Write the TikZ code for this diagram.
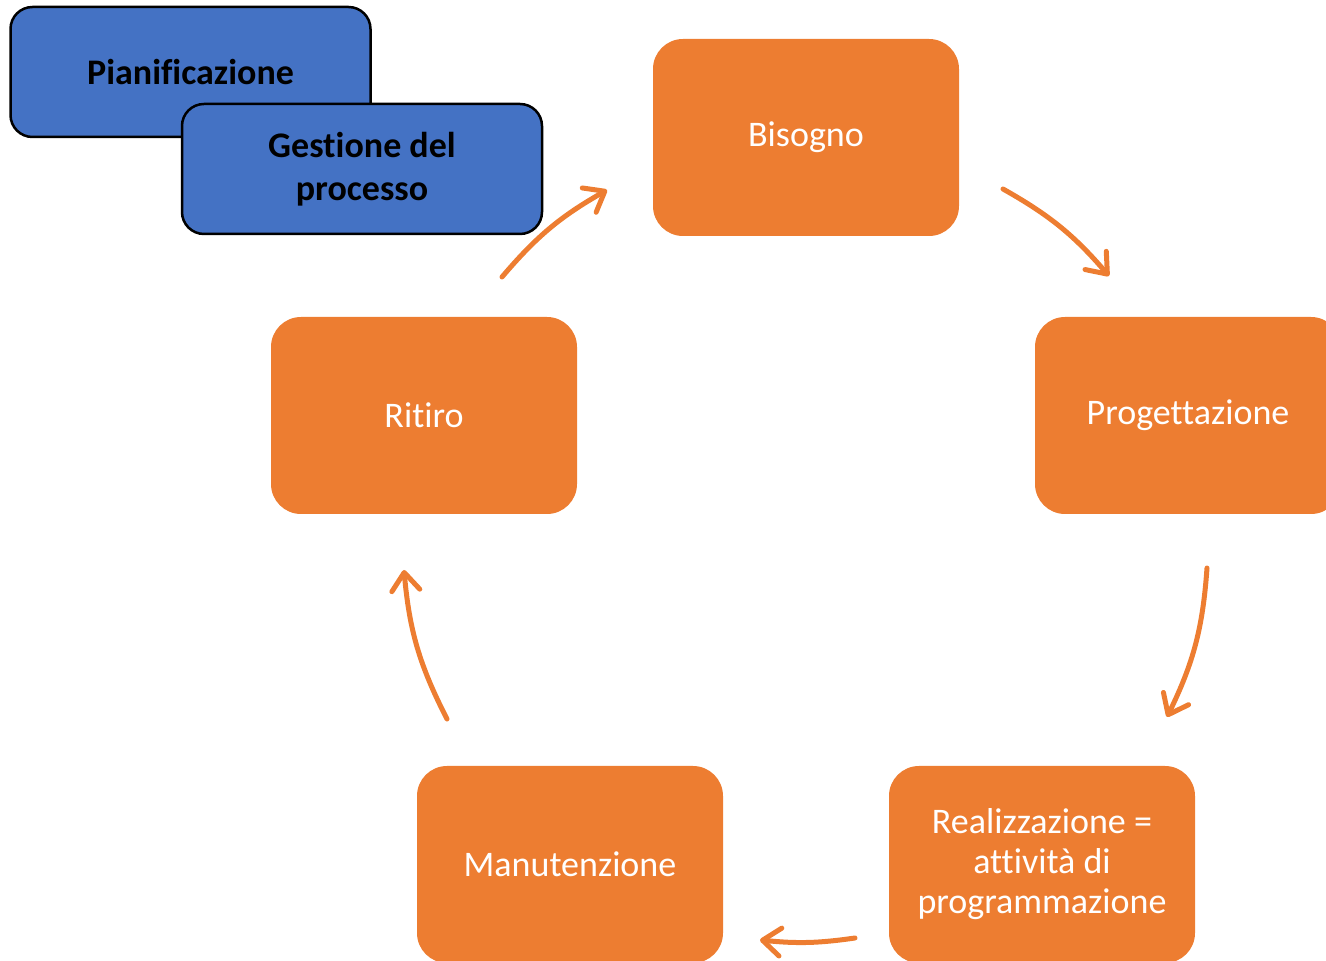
\documentclass[tikz,border=0pt]{standalone}
\usepackage{fontspec}
\setmainfont[Ligatures={NoCommon,NoContextual,NoRare}]{Carlito}
\usetikzlibrary{arrows.meta}
\definecolor{boxorange}{HTML}{ED7D31}
\definecolor{boxblue}{HTML}{4472C4}
\tikzset{
  phase/.style={fill=boxorange, draw=none, rounded corners=30pt, minimum width=306pt, minimum height=197pt,
    text=white, align=center, font=\fontsize{36}{40}\selectfont, inner sep=0pt},
  bluebox/.style={fill=boxblue, draw=black, line width=2.5pt, rounded corners=22pt, minimum width=360pt, minimum height=130pt,
    text=black, align=center, font=\fontsize{36}{43}\selectfont\bfseries, inner sep=0pt},
  flow/.style={draw=boxorange, line width=5pt, line cap=round,
    -{Straight Barb[length=18pt,width=28pt,round]}}
}
\begin{document}
\begin{tikzpicture}[x=1pt,y=1pt]
\useasboundingbox (0,0) rectangle (1326,961);
\clip (0,0) rectangle (1326,961);
% blue boxes
\node[bluebox] (pian) at (190.5,889) {Pianificazione};
\node[bluebox] (gest) at (362,792) {Gestione del\\processo};
% phases
\node[phase] (bis) at (806,823.5) {Bisogno};
\node[phase] (prog) at (1188,545.5) {Progettazione};
\node[phase] (real) at (1042,96.5) {Realizzazione =\\attività di\\programmazione};
\node[phase] (man) at (570,96.5) {Manutenzione};
\node[phase] (rit) at (424,545.5) {Ritiro};
% arrow ends
\coordinate (a1s) at (502,684); \coordinate (a1e) at (607,771);
\coordinate (a2s) at (1003,772); \coordinate (a2e) at (1109,685);
\coordinate (a3s) at (1207,393); \coordinate (a3e) at (1167,244);
\coordinate (a4s) at (855,23); \coordinate (a4e) at (760,21);
\coordinate (a5s) at (447,242); \coordinate (a5e) at (404,391);
\draw[flow] (a1s) to[bend left=10] (a1e);
\draw[flow] (a2s) to[bend left=10] (a2e);
\draw[flow] (a3s) to[bend left=11] (a3e);
\draw[flow] (a4s) to[bend left=7] (a4e);
\draw[flow] (a5s) to[bend left=11] (a5e);
\end{tikzpicture}
\end{document}
